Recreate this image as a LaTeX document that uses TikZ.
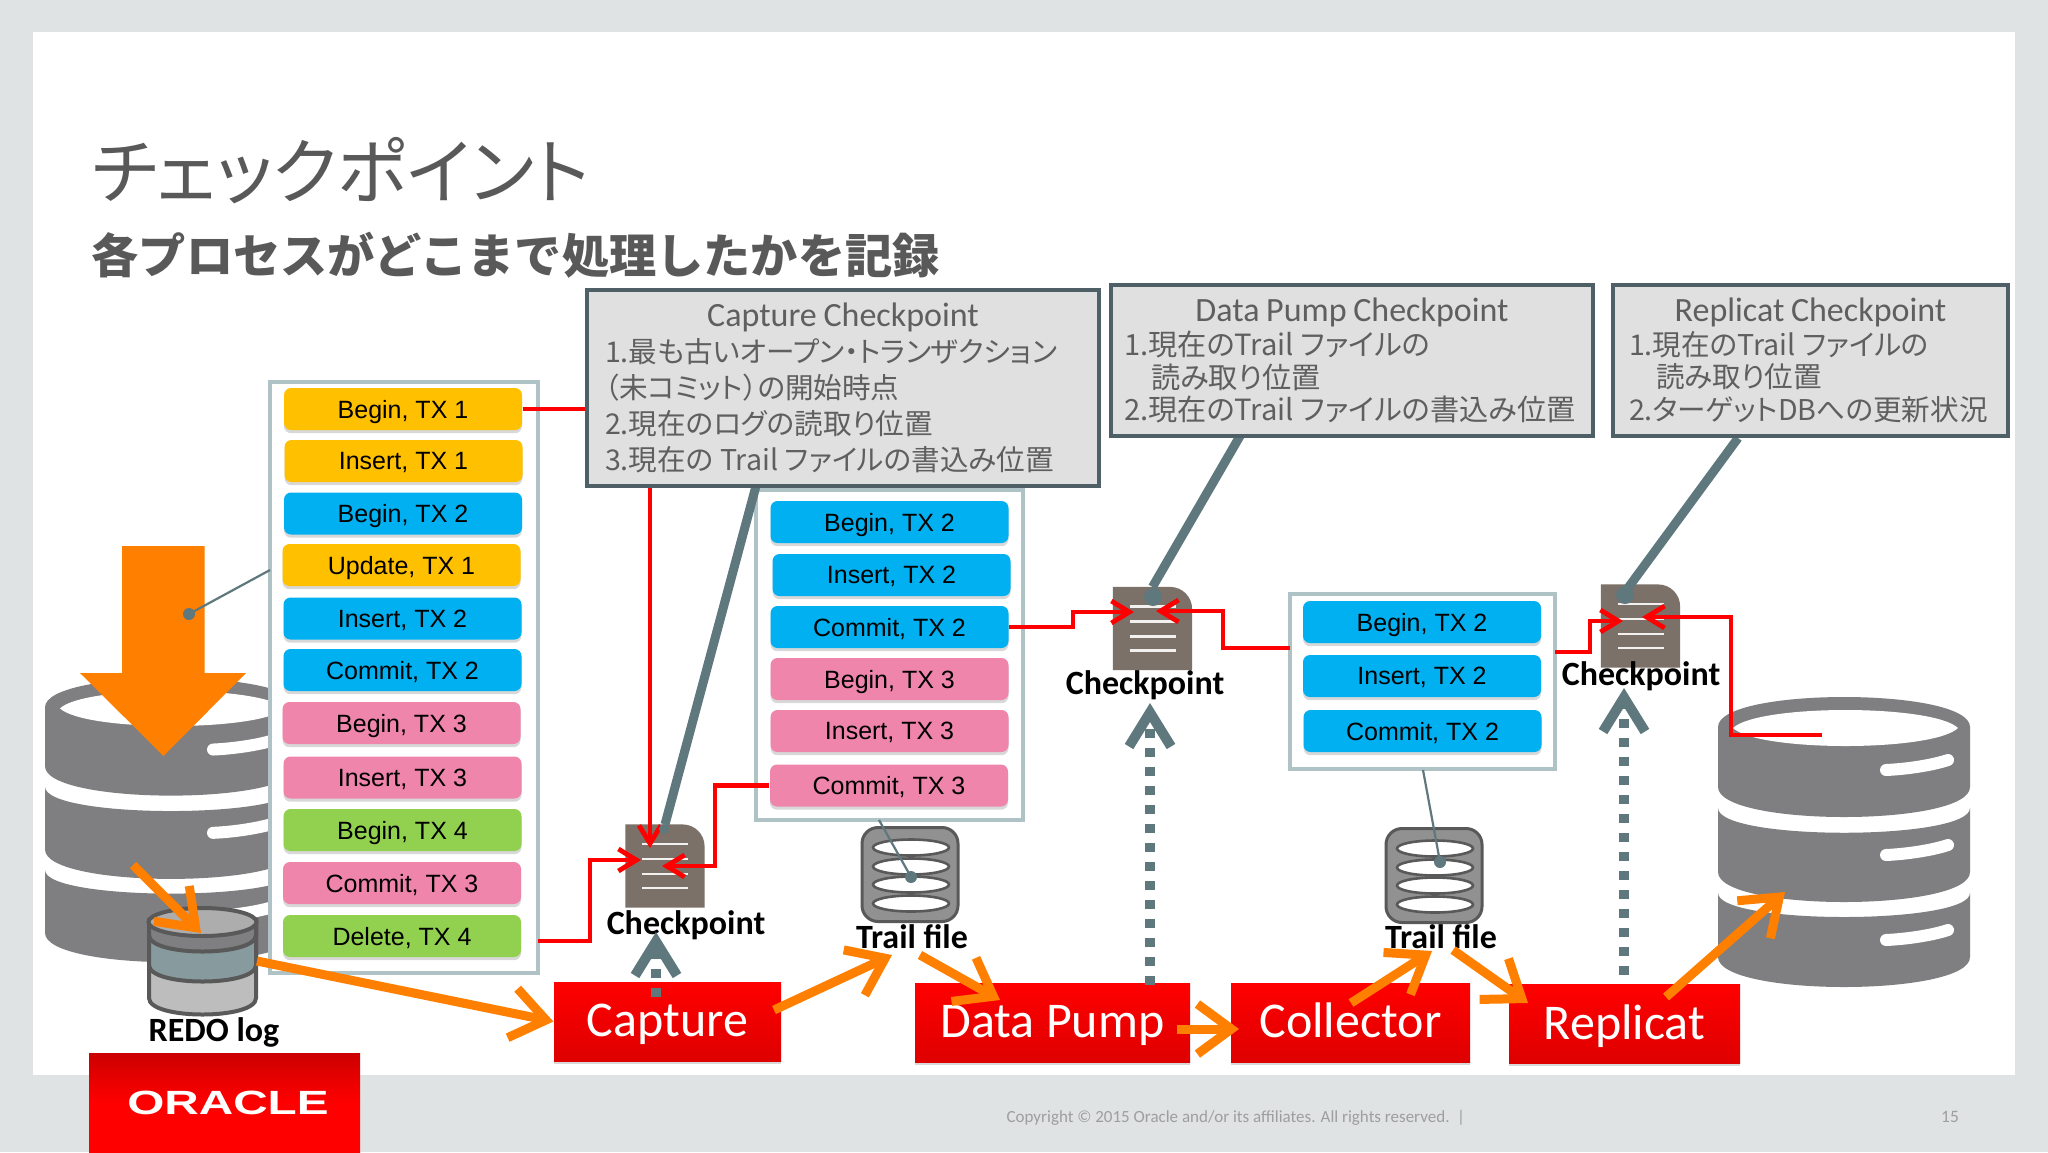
\documentclass[tikz,border=0pt]{standalone}
\usepackage{fontspec}
\setmainfont{Carlito}
\newfontfamily\armf{Liberation Sans}
\newfontfamily\jp{Noto Sans CJK JP}
\newfontfamily\jpp{Noto Sans CJK JP}[RawFeature=+palt]
\usetikzlibrary{arrows.meta, shadows}
\definecolor{bgs}{HTML}{DFE3E3}
\definecolor{amb}{HTML}{FFC000}
\definecolor{blu}{HTML}{00B0F0}
\definecolor{pnk}{HTML}{EF85AB}
\definecolor{grn}{HTML}{92D050}
\definecolor{frm}{HTML}{AFC3C7}
\definecolor{slt}{HTML}{5F787D}
\definecolor{brd}{HTML}{4F5F66}
\definecolor{dbg}{HTML}{7F7E80}
\definecolor{brn}{HTML}{7B7168}
\definecolor{org}{HTML}{FF7F00}
\definecolor{ink}{HTML}{5F5F5F}
\newcommand{\fs}[1]{\fontsize{#1}{#1}\selectfont}
% stacked database, local origin at its top left
\newcommand{\dbicon}[3]{
  \begin{scope}[shift={(#1,#2)}, yscale=#3]
    \fill[dbg] (0,30) .. controls (0,-10) and (252,-10) .. (252,30) -- (252,90)
      .. controls (252,130) and (0,130) .. (0,90) -- cycle;
    \fill[white] (15,31) .. controls (40,7) and (215,7) .. (240,31)
      .. controls (215,55) and (40,55) .. (15,31) -- cycle;
    \fill[dbg] (0,111) .. controls (0,144) and (252,144) .. (252,111) -- (252,175)
      .. controls (252,215) and (0,215) .. (0,175) -- cycle;
    \fill[dbg] (0,196) .. controls (0,228) and (252,228) .. (252,196) -- (252,260)
      .. controls (252,300) and (0,300) .. (0,260) -- cycle;
    \draw[white, line width=6pt, line cap=round] (168,73) .. controls (190,72) and (215,68) .. (230,63);
    \draw[white, line width=6pt, line cap=round] (168,158) .. controls (190,157) and (215,153) .. (230,148);
    \draw[white, line width=6pt, line cap=round] (168,243) .. controls (190,242) and (215,238) .. (230,233);
  \end{scope}
}
% checkpoint page
\newcommand{\ckicon}[3]{
  \node[ckpage] (#1) [at={(#2,#3)}] {};
  \fill[brn] (#1.south west) -- (#1.north west) [rounded corners=11pt] -- (#1.north east)
    [sharp corners] -- (#1.south east) -- cycle;
  \draw[ckline] (#2-23,#3-22) -- (#2+23,#3-22);
  \draw[ckline] (#2-23,#3-7) -- (#2+23,#3-7);
  \draw[ckline] (#2-23,#3+8) -- (#2+23,#3+8);
  \draw[ckline] (#2-23,#3+22) -- (#2+23,#3+22);
}
% trail file
\newcommand{\trailicon}[3]{
  \node[trailbox] (#1) [at={(#2,#3)}] {};
  \draw[disc] (#2+1,#3-27) ellipse [x radius=38, y radius=8];
  \draw[disc] (#2+1,#3-8) ellipse [x radius=38, y radius=8];
  \draw[disc] (#2+1,#3+10) ellipse [x radius=38, y radius=8];
  \draw[disc] (#2+1,#3+29) ellipse [x radius=38, y radius=8];
}
\begin{document}
\begin{tikzpicture}[
      x = 0.5pt, % one reference pixel
      y = -0.5pt,
      > = {Straight Barb[length=9pt, width=11pt]}, % arrow head style
      semithick, % line style
    ]

    \tikzstyle{txrow}=[
      rectangle,
      rounded corners = 3.5pt,
      minimum width = 119pt,
      minimum height = 21pt,
      inner sep = 0pt,
      text depth = 0pt,
      font = \armf\fs{12.5},
      text = black,
      drop shadow = {shadow xshift=0pt, shadow yshift=-1.6pt, opacity=.3}
    ]
    \tikzstyle{frame}=[rectangle, draw = frm, line width = 1.8pt, fill = white]
    \tikzstyle{process}=[
      rectangle,
      top color = red,
      bottom color = red!87!black,
      text = white,
      font = \fs{25},
      text height = 15pt,
      text depth = 0pt,
      minimum height = 39.5pt,
      inner sep = 0pt,
      drop shadow = {shadow xshift=0pt, shadow yshift=-1.4pt, opacity=.3}
    ]
    \tikzstyle{note}=[
      rectangle,
      draw = brd,
      line width = 2.2pt,
      fill = black!12,
      text = ink,
      align = left,
      inner ysep = 0pt
    ]
    \tikzstyle{caption}=[font = \bfseries\fs{17}, text = black, inner sep = 0pt]
    \tikzstyle{ckpage}=[rectangle, minimum width = 39pt, minimum height = 41pt, inner sep = 0pt]
    \tikzstyle{ckline}=[draw = white!90!brn, line width = 1.3pt]
    \tikzstyle{trailbox}=[
      rectangle,
      rounded corners = 8pt,
      draw = black!65,
      line width = 1.5pt,
      fill = black!43,
      minimum width = 48pt,
      minimum height = 47pt
    ]
    \tikzstyle{disc}=[draw = black!65, line width = 1.3pt, fill = white]
    \tikzstyle{redline}=[draw = red, line width = 2.4pt, ->]
    \tikzstyle{orangeline}=[color = org, line width = 4.5pt, -{Straight Barb[length=17pt, width=25pt]}]
    \tikzstyle{dashline}=[color = slt, line width = 5pt, dash pattern = on 4.7pt off 4.8pt,
      -{Straight Barb[length=17pt, width=21pt]}]
    \tikzstyle{leader}=[color = slt, line width = 4.5pt]
    \tikzstyle{thinleader}=[draw = slt, line width = 1.1pt]

    \useasboundingbox (0,0) rectangle (2048,1152);
    \fill[bgs] (0,0) rectangle (2048,1152);
    \fill[white] (33,32) rectangle (2015,1075);

    \node[anchor = west, inner sep = 0pt, text = black!65, font = \jpp\fs{36}] (title) [at={(91,171)}] {チェックポイント};
    \node[anchor = west, inner sep = 0pt, text = black!65, font = \jp\bfseries\fs{23.6}] (subtitle) [at={(91,255)}] {各プロセスがどこまで処理したかを記録};

    \dbicon{45}{678}{0.98}
    \dbicon{1718}{697}{1}
    \fill[org] (122,546) -- (204.5,546) -- (204.5,673) -- (246,673) -- (163.5,756) -- (80,673) -- (122,673) -- cycle;

    \node[frame, minimum width = 134pt, minimum height = 295.5pt] (listA) [at={(404,677.5)}] {};
    \node[frame, minimum width = 133.5pt, minimum height = 165pt] (listB) [at={(889.5,655)}] {};
    \node[frame, minimum width = 132.5pt, minimum height = 87.5pt] (listC) [at={(1422.5,681.5)}] {};

    \node[txrow, fill = amb] (a1) [at={(403,409)}] {Begin, TX 1};
    \node[txrow, fill = amb] (a2) [at={(403.5,461)}] {Insert, TX 1};
    \node[txrow, fill = blu] (a3) [at={(403,513.5)}] {Begin, TX 2};
    \node[txrow, fill = amb] (a4) [at={(401.5,565)}] {Update, TX 1};
    \node[txrow, fill = blu] (a5) [at={(402.5,618.5)}] {Insert, TX 2};
    \node[txrow, fill = blu] (a6) [at={(402.5,670)}] {Commit, TX 2};
    \node[txrow, fill = pnk] (a7) [at={(401.5,723)}] {Begin, TX 3};
    \node[txrow, fill = pnk] (a8) [at={(402.5,777.5)}] {Insert, TX 3};
    \node[txrow, fill = grn] (a9) [at={(402.5,830)}] {Begin, TX 4};
    \node[txrow, fill = pnk] (a10) [at={(402,883)}] {Commit, TX 3};
    \node[txrow, fill = grn] (a11) [at={(402,936)}] {Delete, TX 4};

    \node[txrow, fill = blu] (b1) [at={(889.5,522)}] {Begin, TX 2};
    \node[txrow, fill = blu] (b2) [at={(891.5,575)}] {Insert, TX 2};
    \node[txrow, fill = blu] (b3) [at={(889.5,627)}] {Commit, TX 2};
    \node[txrow, fill = pnk] (b4) [at={(889.5,679)}] {Begin, TX 3};
    \node[txrow, fill = pnk] (b5) [at={(889.5,731)}] {Insert, TX 3};
    \node[txrow, fill = pnk] (b6) [at={(889,785.5)}] {Commit, TX 3};

    \node[txrow, fill = blu] (c1) [at={(1422,622)}] {Begin, TX 2};
    \node[txrow, fill = blu] (c2) [at={(1422,676)}] {Insert, TX 2};
    \node[txrow, fill = blu] (c3) [at={(1422.5,731)}] {Commit, TX 2};

    \ckicon{ck1}{665}{866}
    \ckicon{ck2}{1152.5}{628.5}
    \ckicon{ck3}{1640.5}{626}
    \trailicon{tf1}{910}{874.5}
    \trailicon{tf2}{1434}{875.5}

    % redo log drum
    \draw[draw = black!65, line width = 2pt, fill = black!26] (149,920) -- (149,998) .. controls (149,1020) and (256,1020) .. (256,998) -- (256,920) -- cycle;
    \draw[draw = black!65, line width = 2pt, fill = slt!75] (149,920) -- (149,965) .. controls (149,987) and (256,987) .. (256,965) -- (256,920) -- cycle;
    \draw[draw = black!65, line width = 2pt, fill = dbg] (149,920) -- (149,935) .. controls (149,957) and (256,957) .. (256,935) -- (256,920) -- cycle;
    \draw[draw = black!65, line width = 2pt, fill = black!32] (202.5,922) ellipse [x radius=54, y radius=14];

    % named ends of the connectors
    \coordinate (redoOut) at (257,961);
    \coordinate (redoIn) at (201,933);
    \coordinate (redoTop) at (133,865);
    \coordinate (listAeast) at (538,941);
    \coordinate (listCwest) at (1290,648);
    \coordinate (listCeast) at (1555,652);
    \coordinate (ck1a) at (650,848);
    \coordinate (ck1b) at (641,860);
    \coordinate (ck1c) at (662,866);
    \coordinate (ck2a) at (1134,612);
    \coordinate (ck2b) at (1156,611);
    \coordinate (ck3a) at (1623,621);
    \coordinate (ck3b) at (1642,617);
    \coordinate (dbRed) at (1822,735);

    \draw[redline, -] (a1.east) -- (650,409);
    \draw[redline] (650,409) -- (ck1a);
    \draw[redline] (listAeast) -- (590,941) -- (590,860) -- (ck1b);
    \draw[redline] (b6.west) -- (715,785.5) -- (715,866) -- (ck1c);
    \draw[redline] (b3.east) -- (1073,627) -- (1073,612) -- (ck2a);
    \draw[redline] (listCwest) -- (1223,648) -- (1223,611) -- (ck2b);
    \draw[redline] (listCeast) -- (1590,652) -- (1590,621) -- (ck3a);
    \draw[redline] (dbRed) -- (1731,735) -- (1731,617) -- (ck3b);

    \coordinate (capFoot) at (756,486);
    \coordinate (dpFoot) at (1240,436);
    \coordinate (repFoot) at (1738,438);
    \coordinate (ck3top) at (1625,592);
    \path[leader] (capFoot) edge node {} (ck1.north);
    \path[leader] (dpFoot) edge node {} (ck2.north);
    \path[leader] (repFoot) edge node {} (ck3top);
    \fill[slt] (664,829) circle [radius=5];
    \fill[slt] (1153,597) circle [radius=9];
    \fill[slt] (1625,595) circle [radius=9];

    \coordinate (listAleft) at (270,570);
    \coordinate (listBfoot) at (879,820);
    \coordinate (listCfoot) at (1423,770);
    \coordinate (dotA) at (189,614);
    \coordinate (dotB) at (911,877);
    \coordinate (dotC) at (1440,862);
    \draw[thinleader] (listAleft) -- (dotA);
    \draw[thinleader] (listBfoot) -- (dotB);
    \draw[thinleader] (listCfoot) -- (dotC);
    \fill[slt] (dotA) circle [radius=6];
    \fill[slt] (dotB) circle [radius=6];
    \fill[slt] (dotC) circle [radius=6];

    \node[note, minimum width = 256pt, minimum height = 98pt, text width = 238pt] (capbox) [at={(843,388)}]
      {\makebox[238pt]{\fs{17}Capture Checkpoint}\\[2pt]
       {\jpp\fs{14.3}1.最も古いオープン・トランザクション\\[3.7pt]（未コミット）の開始時点\\[3.7pt]2.現在のログの読取り位置\\[3.7pt]3.現在の Trail ファイルの書込み位置}};
    \node[note, minimum width = 241pt, minimum height = 75.5pt, text width = 228pt] (dpbox) [at={(1352,360.5)}]
      {\makebox[228pt]{\fs{17}Data Pump Checkpoint}\\[1pt]
       {\jpp\fs{14.6}1.現在のTrail ファイルの\\[1.7pt]\hspace*{13.5pt}読み取り位置\\[1.7pt]2.現在のTrail ファイルの書込み位置}};
    \node[note, minimum width = 197.5pt, minimum height = 75.5pt, text width = 181.5pt] (repbox) [at={(1810.5,360.5)}]
      {\makebox[181.5pt]{\fs{17}Replicat Checkpoint}\\[1pt]
       {\jpp\fs{14.3}1.現在のTrail ファイルの\\[2pt]\hspace*{13.5pt}読み取り位置\\[2pt]2.ターゲットDBへの更新状況}};

    \node[process, minimum width = 113.5pt] (capture) [at={(667.5,1021.5)}] {Capture};
    \node[process, minimum width = 137.5pt] (pump) [at={(1052.5,1022.5)}] {Data Pump};
    \node[process, minimum width = 119.5pt] (collector) [at={(1350.5,1022.5)}] {Collector};
    \node[process, minimum width = 115.5pt] (replicat) [at={(1624.5,1024)}] {Replicat};

    \node[caption] (ckl1) [at={(686,925.5)}] {Checkpoint};
    \node[caption] (ckl2) [at={(1145,685)}] {Checkpoint};
    \node[caption] (ckl3) [at={(1641,676)}] {Checkpoint};
    \node[caption] (redo) [at={(214,1032)}] {REDO log};
    \node[caption] (tfl1) [at={(912,937)}] {Trail file};
    \node[caption] (tfl2) [at={(1441,937)}] {Trail file};

    \coordinate (dash1) at (656,997);
    \coordinate (tip1) at (656,932);
    \coordinate (dash2) at (1150,985);
    \coordinate (tip2) at (1150,703);
    \coordinate (dash3) at (1624,975);
    \coordinate (tip3) at (1624,688);
    \path[dashline] (dash1) edge node {} (tip1);
    \path[dashline] (dash2) edge node {} (tip2);
    \path[dashline] (dash3) edge node {} (tip3);

    \coordinate (capOut) at (774,1010);
    \coordinate (tf1In) at (892,955);
    \coordinate (tf1Out) at (920,955);
    \coordinate (pumpIn) at (1000,1000);
    \coordinate (pumpOut) at (1177,1029);
    \coordinate (collIn) at (1239,1029);
    \coordinate (collOut) at (1351,1003);
    \coordinate (tf2In) at (1432,951);
    \coordinate (tf2Out) at (1453,950);
    \coordinate (repIn) at (1528,1003);
    \coordinate (repOut) at (1666,997);
    \coordinate (dbIn) at (1785,892);
    \path[orangeline] (redoTop) edge node {} (redoIn);
    \path[orangeline] (redoOut) edge node {} (capture.west);
    \path[orangeline] (capOut) edge node {} (tf1In);
    \path[orangeline] (tf1Out) edge node {} (pumpIn);
    \path[orangeline] (pumpOut) edge node {} (collIn);
    \path[orangeline] (collOut) edge node {} (tf2In);
    \path[orangeline] (tf2Out) edge node {} (repIn);
    \path[orangeline] (repOut) edge node {} (dbIn);

    \node[rectangle, top color = red!80!black, bottom color = red, middle color = red, minimum width = 135.5pt, minimum height = 49.5pt] (logo) [at={(224.5,1102.5)}] {};
    \node[text = white, inner sep = 0pt, xscale = 1.42, font = \armf\bfseries\fs{16.8}] (oracle) [at={(228,1103)}] {ORACLE};
    \node[anchor = west, inner sep = 0pt, text = black!38, font = \fs{8.5}] (copyright) [at={(1006,1118)}] {Copyright © 2015 Oracle and/or its affiliates. All rights reserved.\ \ |};
    \node[inner sep = 0pt, text = black!38, font = \fs{8.7}] (pageno) [at={(1950,1117)}] {15};
  \end{tikzpicture}
\end{document}
